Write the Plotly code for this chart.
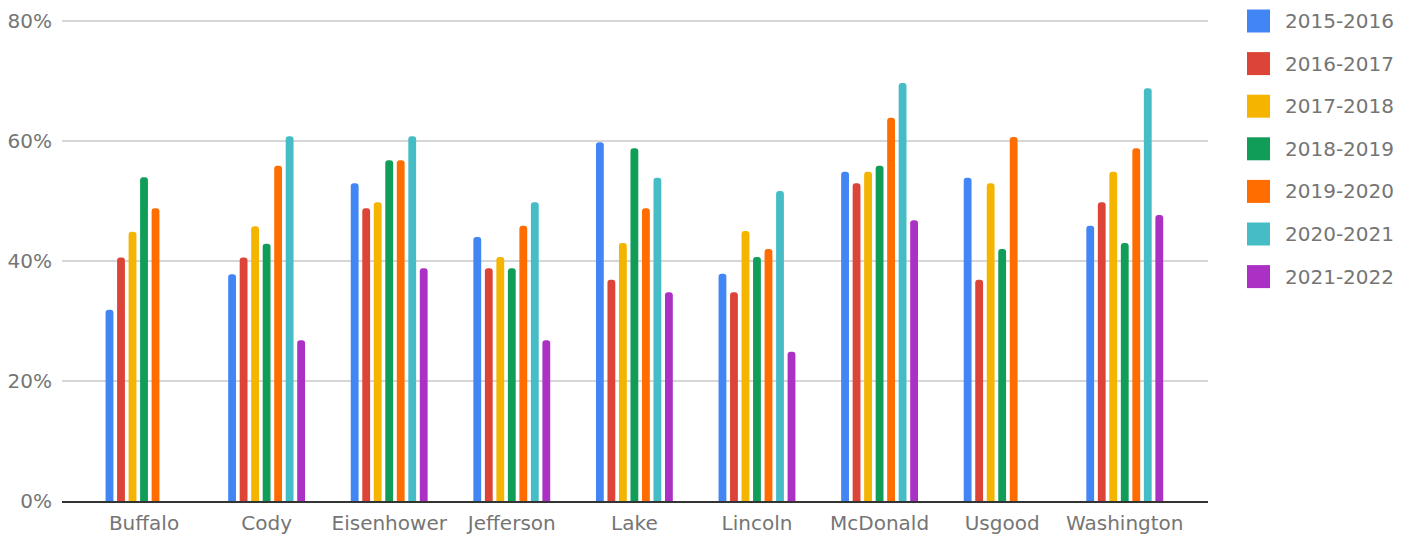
import plotly.graph_objects as go

categories = ["Buffalo", "Cody", "Eisenhower", "Jefferson", "Lake", "Lincoln",
              "McDonald", "Usgood", "Washington"]
series_names = ["2015-2016", "2016-2017", "2017-2018", "2018-2019",
                "2019-2020", "2020-2021", "2021-2022"]
colors = ["#4285F4", "#DB4437", "#F4B400", "#0F9D58", "#FF6D00", "#46BDC6", "#AB30C4"]

s2015 = [31.9, 37.8, 53.0, 44.0, 59.8, 37.9, 54.9, 53.9, 45.9]
s2016 = [40.6, 40.6, 48.8, 38.8, 36.9, 34.8, 53.0, 36.9, 49.8]
s2017 = [44.9, 45.8, 49.8, 40.7, 43.0, 45.0, 54.9, 53.0, 54.9]
s2018 = [54.0, 42.9, 56.8, 38.8, 58.8, 40.7, 55.9, 42.0, 43.0]
s2019 = [48.8, 55.9, 56.8, 45.9, 48.8, 42.0, 63.9, 60.7, 58.8]
s2020 = [None, 60.8, 60.8, 49.8, 53.9, 51.7, 69.7, None, 68.8]
s2021 = [None, 26.8, 38.8, 26.8, 34.8, 24.9, 46.8, None, 47.7]
series_values = [s2015, s2016, s2017, s2018, s2019, s2020, s2021]

y_ticks = [0, 20, 40, 60, 80]
y_tick_labels = ["0%", "20%", "40%", "60%", "80%"]

FONT = "DejaVu Sans"
GREY = "#757575"

fig = go.Figure()
for name, vals, col in zip(series_names, series_values, colors):
    fig.add_trace(go.Bar(
        x=categories, y=vals, name=name,
        marker=dict(color=col, line=dict(width=0), cornerradius=3.5),
        showlegend=False,
    ))

# plot area geometry (pixels) for the manual legend
L, R, T, B = 62, 1208, 20, 501
W, H = R - L, B - T

def px(x):
    return (x - L) / W

def py(y):
    return (B - y) / H

shapes = []
annotations = []
for i, (name, col) in enumerate(zip(series_names, colors)):
    cy = 21 + i * 42.6
    shapes.append(dict(type="rect", xref="paper", yref="paper",
                       x0=px(1247), x1=px(1270), y0=py(cy + 11.5), y1=py(cy - 11.5),
                       fillcolor=col, line=dict(width=0), layer="above"))
    annotations.append(dict(xref="paper", yref="paper", x=px(1283), y=py(cy),
                            xanchor="left", yanchor="middle", text=name, showarrow=False,
                            font=dict(family=FONT, size=20, color=GREY)))

fig.update_layout(
    width=1415, height=541,
    margin=dict(l=L, r=1415 - R, t=T, b=541 - B),
    paper_bgcolor="white", plot_bgcolor="white",
    barmode="group", bargap=0.343, bargroupgap=0.32,
    font=dict(family=FONT, size=20, color=GREY),
    shapes=shapes, annotations=annotations,
    xaxis=dict(range=[-0.669, 8.679], showgrid=False, showline=True,
               linecolor="#333333", linewidth=1.5, ticks="", automargin=False,
               ticklabelstandoff=3,
               tickfont=dict(family=FONT, size=20, color=GREY)),
    yaxis=dict(range=[0, 80.2], tickvals=y_ticks, ticktext=y_tick_labels,
               showgrid=True, gridcolor="#d6d6d6", gridwidth=1.5,
               zeroline=False, showline=False, ticks="", automargin=False,
               ticklabelstandoff=9,
               tickfont=dict(family=FONT, size=20, color=GREY)),
)

fig.write_html("out.html", config={"displayModeBar": False},
               post_script="document.body.style.margin='0';document.body.style.overflow='hidden';")
